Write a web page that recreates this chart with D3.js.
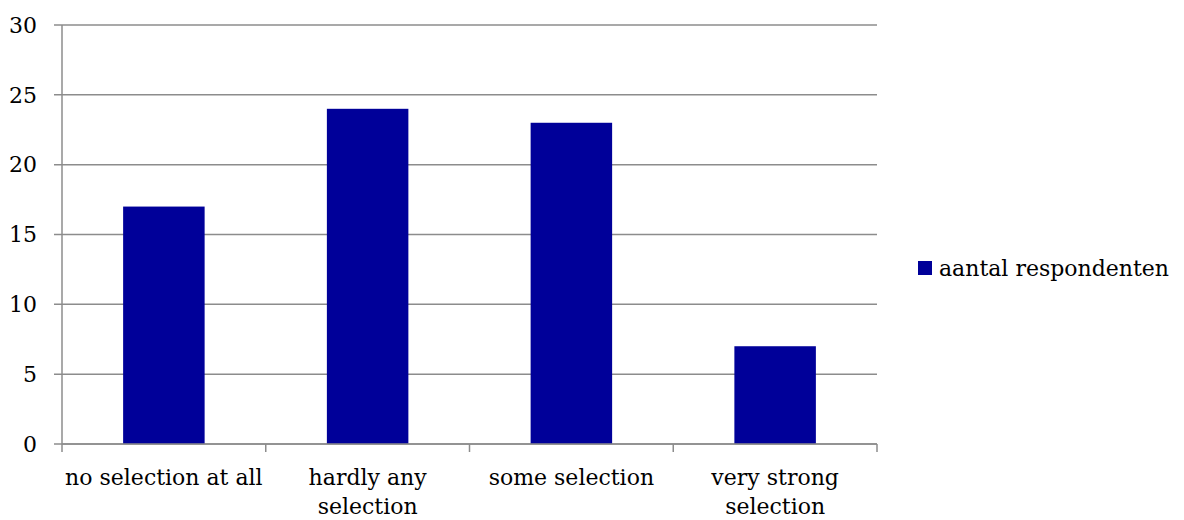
<!DOCTYPE html>
<html><head><meta charset="utf-8">
<script src="https://cdn.jsdelivr.net/npm/d3@7"></script>
<style>body{margin:0;background:#fff}</style>
</head><body>
<svg id="c" width="1184" height="520"></svg>
<script>
const categories = [["no selection at all"], ["hardly any", "selection"], ["some selection"], ["very strong", "selection"]];
const values = [17, 24, 23, 7];
const yTicks = [0, 5, 10, 15, 20, 25, 30];
const seriesName = "aantal respondenten";

const svg = d3.select("#c");
const font = "DejaVu Serif";
const fs = 22;
const m = {l: 62, r: 877, t: 25, b: 444};
const x = d3.scaleBand().domain(d3.range(values.length)).range([m.l, m.r]).paddingInner(0).paddingOuter(0);
const y = d3.scaleLinear().domain([0, 30]).range([m.b, m.t]);
const grey = "#8c8c8c";

// gridlines
svg.append("g").selectAll("line").data(yTicks).join("line")
  .attr("x1", m.l - 8).attr("x2", m.r).attr("y1", d => y(d)).attr("y2", d => y(d))
  .attr("stroke", grey).attr("stroke-width", 1.5);
// y labels
svg.append("g").selectAll("text").data(yTicks).join("text")
  .attr("x", 37).attr("y", d => y(d)).attr("dy", "0.35em").attr("text-anchor", "end")
  .attr("font-family", font).attr("font-size", fs).attr("fill", "#000").text(d => d);
// y axis line
svg.append("line").attr("x1", m.l).attr("x2", m.l).attr("y1", m.t).attr("y2", m.b)
  .attr("stroke", grey).attr("stroke-width", 1.5);
// bars
const bw = x.bandwidth() * 0.4;
svg.append("g").selectAll("rect").data(values).join("rect")
  .attr("x", (d, i) => x(i) + (x.bandwidth() - bw) / 2).attr("width", bw)
  .attr("y", d => y(d)).attr("height", d => y(0) - y(d)).attr("fill", "#000099");
// x axis line
svg.append("line").attr("x1", m.l).attr("x2", m.r).attr("y1", m.b).attr("y2", m.b)
  .attr("stroke", grey).attr("stroke-width", 1.5);
// x ticks
const bounds = d3.range(values.length + 1).map(i => m.l + i * x.bandwidth());
svg.append("g").selectAll("line").data(bounds).join("line")
  .attr("x1", d => d).attr("x2", d => d).attr("y1", m.b).attr("y2", m.b + 8)
  .attr("stroke", grey).attr("stroke-width", 1.5);
// x labels
const xl = svg.append("g").selectAll("text").data(categories).join("text")
  .attr("x", (d, i) => x(i) + x.bandwidth() / 2).attr("y", 485)
  .attr("text-anchor", "middle").attr("font-family", font).attr("font-size", fs).attr("fill", "#000");
xl.selectAll("tspan").data(d => d).join("tspan")
  .attr("x", function() { return d3.select(this.parentNode).attr("x"); })
  .attr("dy", (d, i) => i === 0 ? 0 : 29).text(d => d);
// legend
svg.append("rect").attr("x", 918).attr("y", 261).attr("width", 14).attr("height", 14).attr("fill", "#000099");
svg.append("text").attr("x", 939).attr("y", 268).attr("dy", "0.35em")
  .attr("font-family", font).attr("font-size", fs).attr("fill", "#000").text(seriesName);
</script>
</body></html>
